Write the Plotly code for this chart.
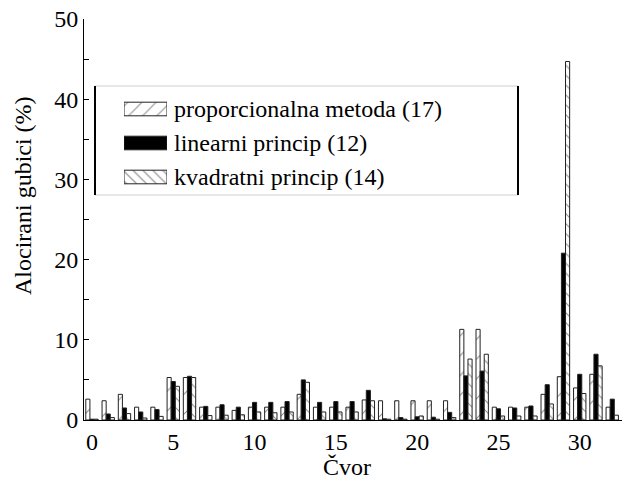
import plotly.graph_objects as go

# ---------------- data ----------------
nodes = list(range(33))
proporcionalna = [2.6, 2.4, 3.2, 1.6, 1.6, 5.3, 5.3, 1.6, 1.6, 1.2, 1.6,
                  1.6, 1.6, 3.2, 1.6, 1.6, 1.6, 2.5, 2.4, 2.4, 2.4, 2.4,
                  2.4, 11.3, 11.3, 1.6, 1.6, 1.6, 3.2, 5.4, 4.0, 5.7, 1.6]
linearni = [0.1, 0.75, 1.5, 1.0, 1.3, 4.8, 5.45, 1.7, 1.9, 1.6, 2.2,
            2.2, 2.3, 5.0, 2.2, 2.3, 2.3, 3.7, 0.15, 0.3, 0.4, 0.35,
            0.95, 5.5, 6.1, 1.4, 1.5, 1.75, 4.4, 20.8, 5.7, 8.2, 2.6]
kvadratni = [0.1, 0.3, 0.8, 0.25, 0.45, 4.2, 5.3, 0.55, 0.6, 0.65, 1.0,
             0.9, 1.0, 4.7, 1.0, 1.0, 1.0, 2.4, 0.1, 0.1, 0.5, 0.1,
             0.3, 7.6, 8.2, 0.5, 0.5, 0.5, 2.0, 44.7, 3.3, 6.75, 0.6]
series_names = ["proporcionalna metoda (17)", "linearni princip (12)",
                "kvadratni princip (14)"]
x_ticks = [0, 5, 10, 15, 20, 25, 30]
y_ticks = [0, 10, 20, 30, 40, 50]

# ---------------- layout constants ----------------
W, H = 622, 479
ML, MR, MT, MB = 84, 0, 19, 59
PW, PH = W - ML - MR, H - MT - MB
FONT = "Liberation Serif, Times New Roman, Times, serif"
FS = 24


def px_x(p):
    return (p - ML) / PW


def px_y(p):
    return (H - MB - p) / PH


line_col = "#222"
styles = [
    dict(color="white", pattern=dict(shape="/", size=14, solidity=0.08,
                                     fgcolor="#222", bgcolor="white")),
    dict(color="black"),
    dict(color="white", pattern=dict(shape="\\", size=7, solidity=0.15,
                                     fgcolor="#222", bgcolor="white")),
]

fig = go.Figure()
for name, vals, st in zip(series_names, [proporcionalna, linearni, kvadratni], styles):
    fig.add_trace(go.Bar(x=nodes, y=vals, name=name,
                         marker=dict(**st, line=dict(color=line_col, width=1)),
                         showlegend=False))

# legend swatches on an auxiliary axis
fig.add_trace(go.Bar(
    x=[1, 1, 1], y=[0, 1, 2], orientation="h", width=0.4,
    xaxis="x2", yaxis="y2", showlegend=False, hoverinfo="skip",
    marker=dict(color=["white", "black", "white"],
                line=dict(color=line_col, width=1),
                pattern=dict(shape=["/", "", "\\"], size=[10, 6, 7],
                             solidity=[0.12, 0.15, 0.2], fgcolor="#111"))))

fig.update_layout(
    width=W, height=H,
    margin=dict(l=ML, r=MR, t=MT, b=MB),
    paper_bgcolor="white", plot_bgcolor="white",
    font=dict(family=FONT, size=FS, color="black"),
    barmode="group", bargap=0.24, bargroupgap=0,
    xaxis=dict(range=[-0.49, 32.6], tickvals=x_ticks, ticks="", ticklen=0,
               showline=True, linecolor="black", linewidth=1,
               showgrid=False, zeroline=False,
               tickfont=dict(size=FS, family=FONT)),
    yaxis=dict(range=[0, 50], tickvals=y_ticks, ticks="inside", ticklen=5,
               tickcolor="black", showline=True, linecolor="black",
               linewidth=1, showgrid=False, zeroline=False,
               tickfont=dict(size=FS, family=FONT),
               minor=dict(dtick=5, ticks="inside", ticklen=5,
                          tickcolor="black")),
    xaxis2=dict(domain=[px_x(124), px_x(167)], range=[0, 1], visible=False,
                anchor="y2", fixedrange=True),
    yaxis2=dict(domain=[px_y(194), px_y(92)], range=[2.5, -0.5],
                visible=False, anchor="x2", fixedrange=True),
)

annotations = [
    dict(text="Alocirani gubici (%)", textangle=-90, x=px_x(23), y=px_y(196),
         xref="paper", yref="paper", xanchor="center", yanchor="middle",
         showarrow=False, font=dict(size=FS, family=FONT)),
    dict(text="Čvor", x=px_x(347), y=px_y(467), xref="paper", yref="paper",
         xanchor="center", yanchor="middle",
         showarrow=False, font=dict(size=FS, family=FONT)),
]
for i, name in enumerate(series_names):
    annotations.append(dict(text=name, x=px_x(172), y=i, xref="paper",
                            yref="y2", xanchor="left", yanchor="middle",
                            showarrow=False, font=dict(size=FS, family=FONT)))
fig.update_layout(annotations=annotations)

shapes = [
    dict(type="line", xref="paper", yref="paper", x0=px_x(95), x1=px_x(518),
         y0=px_y(86), y1=px_y(86), line=dict(color="#d0d0d0", width=1)),
    dict(type="line", xref="paper", yref="paper", x0=px_x(95), x1=px_x(518),
         y0=px_y(195), y1=px_y(195), line=dict(color="#d0d0d0", width=1)),
    dict(type="line", xref="paper", yref="paper", x0=px_x(95), x1=px_x(95),
         y0=px_y(86), y1=px_y(195), line=dict(color="black", width=2)),
    dict(type="line", xref="paper", yref="paper", x0=px_x(518), x1=px_x(518),
         y0=px_y(86), y1=px_y(195), line=dict(color="black", width=2)),
]
fig.update_layout(shapes=shapes)

fig.write_html("out.html")
